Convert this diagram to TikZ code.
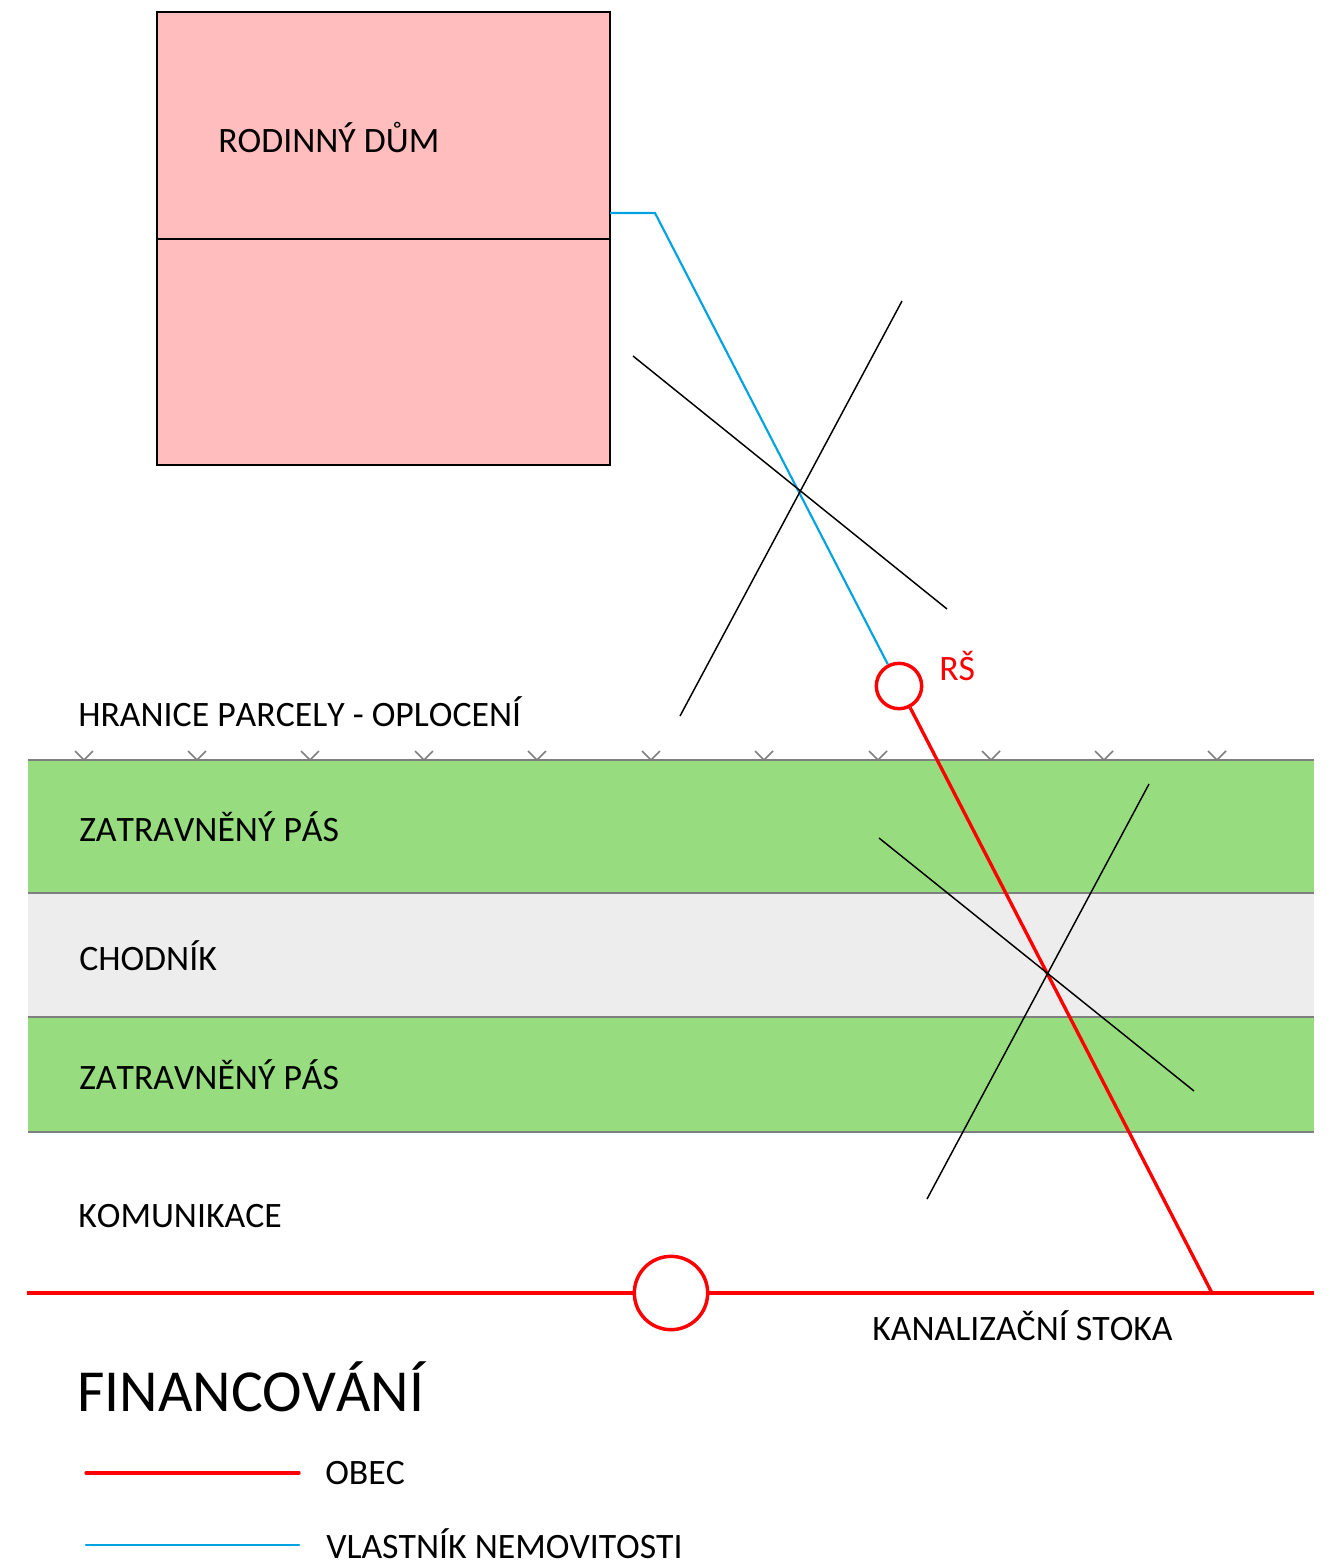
\documentclass[tikz,border=0pt]{standalone}
\usepackage{fontspec}
\setmainfont[Kerning=Off]{Carlito}
\usetikzlibrary{calc}
\definecolor{house_pink}{HTML}{FFBDBD}
\definecolor{grass_green}{HTML}{98DC80}
\definecolor{walk_grey}{HTML}{EDEDED}
\definecolor{edge_grey}{HTML}{7F7F7F}
\definecolor{owner_blue}{HTML}{00A2E0}
\definecolor{city_red}{HTML}{FF0000}

\begin{document}
\begin{tikzpicture}[
	    x=0.75pt, y=-0.75pt,
	    onlytext/.style={anchor=base west, inner sep=0pt, font=\fontsize{26.8}{30}\selectfont},
	    band/.style={rectangle, minimum width=964.5pt, inner sep=0pt, outer sep=0pt, anchor=north west},
	    bandline/.style={color=edge_grey, line width=1.4pt},
	    redline/.style={color=city_red, line width=2.5pt},
	    blueline/.style={color=owner_blue, line width=1.6pt},
	    crossline/.style={color=black, line width=1.1pt},
	    tick/.style={color=edge_grey, line width=1.1pt},
	    manhole/.style={circle, draw=city_red, line width=2.6pt, fill=white, inner sep=0pt},
	]
		\useasboundingbox (0, 0) rectangle (1329, 1563);

		% plot
		\node[band, fill=grass_green, minimum height=99.75pt] (grass1) at (28, 760) {};
		\node[band, fill=walk_grey, minimum height=93pt] (walk) at (28, 893) {};
		\node[band, fill=grass_green, minimum height=86.25pt] (grass2) at (28, 1017) {};
		\draw [bandline] (grass1.north west) -- (grass1.north east);
		\draw [bandline] (walk.north west) -- (walk.north east);
		\draw [bandline] (grass2.north west) -- (grass2.north east);
		\draw [bandline] (grass2.south west) -- (grass2.south east);
		\foreach \x in {84,197,310,424,537,651,764,878,991,1104,1217} {
			\draw [tick] (\x-9, 751) -- (\x, 760) -- (\x+9, 751);
		}

		% house
		\node[rectangle, draw, line width=1.5pt, fill=house_pink, minimum size=339.75pt, inner sep=0pt, outer sep=0pt, anchor=north west] (house) at (157, 12) {};
		\draw [line width=1.5pt] (house.west |- 0, 239) -- (house.east |- 0, 239);

		% connectors
		\node[manhole, minimum size=34pt] (rs) at (899, 686) {};
		\node[manhole, minimum size=55pt] (main) at (671, 1293) {};
		\coordinate (housein) at (610, 213);
		\coordinate (bend) at (655, 213);
		\coordinate (sewerleft) at (27, 1293);
		\coordinate (sewerright) at (1314, 1293);
		\coordinate (junction) at (1212, 1293);
		\draw [blueline] (housein) -- (bend) -- (rs);
		\draw [redline] (rs) -- (junction);
		\draw [redline] (sewerleft) -- (main);
		\draw [redline] (main) -- (sewerright);

		% crossings
		\coordinate (a1) at (633, 356);
		\coordinate (a2) at (947, 609);
		\coordinate (a3) at (902, 301);
		\coordinate (a4) at (680, 716);
		\draw [crossline] (a1) -- (a2);
		\draw [crossline] (a3) -- (a4);
		\coordinate (b1) at (879, 838);
		\coordinate (b2) at (1194, 1091);
		\coordinate (b3) at (1149, 784);
		\coordinate (b4) at (927, 1199);
		\draw [crossline] (b1) -- (b2);
		\draw [crossline] (b3) -- (b4);

		% labels
		\node[onlytext] (dum) at (218, 152) {RODINNÝ DŮM};
		\node[onlytext, color=city_red] (rslabel) at (939, 680) {RŠ};
		\node[onlytext] (fence) at (78, 726) {HRANICE PARCELY - OPLOCENÍ};
		\node[onlytext] (grass1label) at (79, 841) {ZATRAVNĚNÝ PÁS};
		\node[onlytext] (walklabel) at (79, 970) {CHODNÍK};
		\node[onlytext] (grass2label) at (79, 1089) {ZATRAVNĚNÝ PÁS};
		\node[onlytext] (road) at (78, 1227) {KOMUNIKACE};
		\node[onlytext] (sewer) at (872, 1340) {KANALIZAČNÍ STOKA};

		% legend
		\node[onlytext, font=\fontsize{44.7}{48}\selectfont] (title) at (77, 1411) {FINANCOVÁNÍ};
		\coordinate (obecleft) at (86, 1473);
		\coordinate (obecright) at (299, 1473);
		\coordinate (ownerleft) at (86, 1545);
		\coordinate (ownerright) at (299, 1545);
		\draw [redline, line cap=round] (obecleft) -- (obecright);
		\draw [blueline, line cap=round] (ownerleft) -- (ownerright);
		\node[onlytext] (obec) at (325, 1484) {OBEC};
		\node[onlytext] (owner) at (326, 1558) {VLASTNÍK NEMOVITOSTI};
	\end{tikzpicture}
\end{document}
